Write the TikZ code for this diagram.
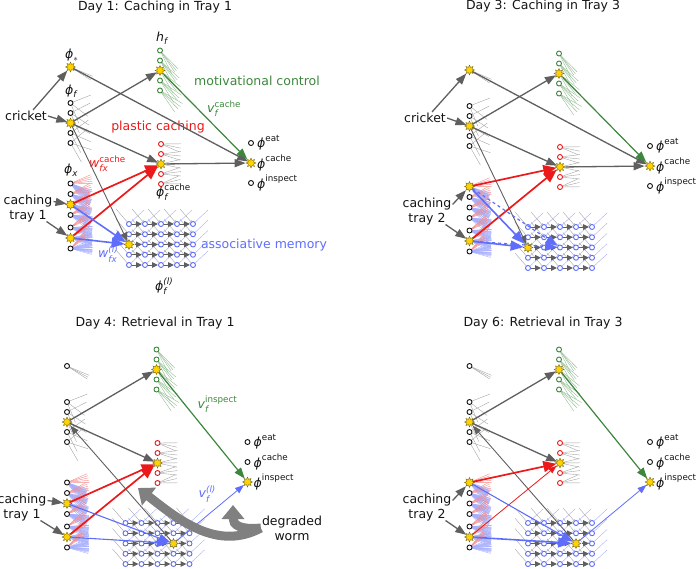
\documentclass[tikz,border=0pt]{standalone}
\usepackage{amsmath}
\usepackage{fontspec}
\setmainfont{DejaVu Sans}
\usetikzlibrary{positioning,arrows.meta,calc,backgrounds,shapes.geometric}
\definecolor{ink}{RGB}{20,20,20}
\definecolor{arrgray}{RGB}{95,95,95}
\definecolor{fangray}{RGB}{165,165,165}
\definecolor{mred}{RGB}{235,25,25}
\definecolor{mgreen}{RGB}{60,135,60}
\definecolor{mblue}{RGB}{95,110,250}
\definecolor{hubgold}{RGB}{255,210,0}
\definecolor{hubedge}{RGB}{120,105,20}
\definecolor{wormgray}{RGB}{128,128,128}
\newcommand{\vit}[1]{\text{\itshape #1}}
\newcommand{\vph}{\text{\itshape ϕ}}
\tikzset{
  hub/.style={star, star points=8, star point ratio=1.8, fill=hubgold, draw=hubedge,
    line width=0.4pt, minimum size=10pt, inner sep=0pt},
  cell/.style={circle, draw=ink, fill=white, line width=0.9pt, minimum size=5pt, inner sep=0pt},
  gcell/.style={cell, draw=mgreen},
  rcell/.style={cell, draw=mred},
  bcell/.style={cell, draw=mblue},
  lbl/.style={font=\fontsize{12.5}{15}\selectfont, text=ink, inner sep=1pt},
  gfan/.style={draw=fangray, line width=0.4pt},
  grfan/.style={draw=mgreen!55, line width=0.4pt},
  rfan/.style={draw=mred!50, line width=0.4pt},
  bfan/.style={draw=mblue!55, line width=0.4pt},
  garr/.style={-{Triangle[length=11pt,width=8pt]}, line width=1.3pt, draw=arrgray},
  garrthin/.style={-{Triangle[length=9pt,width=6.5pt]}, line width=0.9pt, draw=arrgray},
  grarr/.style={-{Triangle[length=11pt,width=8pt]}, line width=1.2pt, draw=mgreen},
  rarr/.style={-{Triangle[length=13pt,width=11pt]}, line width=1.7pt, draw=mred},
  rarrthin/.style={-{Triangle[length=8pt,width=6pt]}, line width=0.8pt, draw=mred},
  barr/.style={-{Triangle[length=13pt,width=10pt]}, line width=1.6pt, draw=mblue},
  barrmid/.style={-{Triangle[length=12pt,width=9pt]}, line width=1.1pt, draw=mblue},
  barrthin/.style={-{Triangle[length=9pt,width=6.5pt]}, line width=0.8pt, draw=mblue},
  dbarr/.style={-{Triangle[length=12pt,width=9pt]}, line width=1.2pt, draw=mblue, dashed},
  marr/.style={-{Triangle[length=6pt,width=5.5pt]}, line width=1pt, draw=arrgray},
  wormarr/.style={-{Triangle[length=14pt,width=22pt]}, line width=9pt, draw=wormgray},
}
% #1 prefix, #2 top style, #3 output hub, #4 first x hub, #5 memory hub column
\newcommand{\panelnet}[5]{%
  \node[#2] (#1-top) at (70.5,67) {};
  \foreach \k in {1,...,5}{
    \pgfmathsetmacro{\yg}{50.5+10*(\k-1)}
    \pgfmathsetmacro{\yf}{103+10*(\k-1)}
    \pgfmathsetmacro{\yr}{144+10*(\k-1)}
    \ifnum\k=3
      \node[hub] (#1-g\k) at (160,\yg) {};
      \node[hub] (#1-f\k) at (70.5,\yf) {};
      \node[hub] (#1-r\k) at (161,\yr) {};
    \else
      \node[gcell] (#1-g\k) at (160,\yg) {};
      \node[cell] (#1-f\k) at (70.5,\yf) {};
      \node[rcell] (#1-r\k) at (161,\yr) {};
    \fi
  }
  \foreach \k in {1,2,3}{
    \pgfmathsetmacro{\yo}{123+20*\k}
    \ifnum\k=#3
      \node[hub] (#1-o\k) at (251,\yo) {};
    \else
      \node[cell] (#1-o\k) at (251,\yo) {};
    \fi
  }
  \node[lbl, right=5pt of #1-o1.center, anchor=west] {$\vph^{\text{eat}}$};
  \node[lbl, right=5pt of #1-o2.center, anchor=west] {$\vph^{\text{cache}}$};
  \node[lbl, right=5pt of #1-o3.center, anchor=west] {$\vph^{\text{inspect}}$};
  \foreach \k/\y in {1/183.5,2/194,3/204.5,4/215,5/227.5,6/238,7/248.5}{
    \pgfmathtruncatemacro{\ishub}{(\k==#4)||(\k==6)}
    \ifnum\ishub=1
      \node[hub] (#1-x\k) at (70.5,\y) {};
    \else
      \node[cell] (#1-x\k) at (70.5,\y) {};
    \fi
  }
  % memory grid, rows chained left to right
  \foreach \r in {0,...,4}{
    \foreach \c in {0,...,4}{
      \pgfmathsetmacro{\gx}{129+16*\c}
      \pgfmathsetmacro{\gy}{224+10.25*\r}
      \pgfmathtruncatemacro{\ishub}{(\c==#5)&&(\r==2)}
      \ifnum\ishub=1
        \node[hub] (#1-m\c\r) at (\gx,\gy) {};
      \else
        \node[bcell] (#1-m\c\r) at (\gx,\gy) {};
      \fi
      \ifnum\c>0
        \pgfmathtruncatemacro{\pc}{\c-1}
        \draw[marr] (#1-m\pc\r.east) -- (#1-m\c\r.west);
      \fi
    }
  }
  % weight fans
  \begin{pgfonlayer}{background}
    \foreach \t in {1,2,3}
      \draw[gfan] (#1-top.center) -- ($(#1-top.center)!24pt!(#1-o\t.center)$);
    \foreach \k in {1,...,5}{
      \foreach \tx/\ty in {160/68,161/172,129/245}
        \draw[gfan] (#1-f\k.center) -- ($(#1-f\k.center)!22pt!(\tx,\ty)$);
      \foreach \t in {1,2,3}{
        \draw[grfan] (#1-g\k.center) -- ($(#1-g\k.center)!26pt!(#1-o\t.center)$);
        \draw[gfan] (#1-r\k.center) -- ($(#1-r\k.center)!20pt!(#1-o\t.center)$);
      }
      \draw[grfan] (#1-g\k.center) -- ($(#1-g\k.center)!26pt!(235,200)$);
    }
    \foreach \k in {1,...,7}{
      \foreach \j in {1,...,5}
        \draw[rfan] (#1-x\k.center) -- ($(#1-x\k.center)!22pt!(#1-r\j.center)$);
      \foreach \c in {0,...,4}
        \foreach \r in {0,...,4}
          \draw[bfan] (#1-x\k.center) -- ($(#1-x\k.center)!22pt!(#1-m\c\r.center)$);
    }
    \foreach \c in {0,...,4}
      \foreach \r in {0,...,4}{
        \draw[gfan] (#1-m\c\r.center) -- ++(-13,-15);
        \draw[bfan] (#1-m\c\r.center) -- ++(15,-14);
      }
  \end{pgfonlayer}
}

\begin{document}
\begin{tikzpicture}[x=1pt,y=-1pt]
\useasboundingbox (0,0) rectangle (700,568);
\node[lbl] (t1) at (155,7) {Day 1: Caching in Tray 1};
\node[lbl] (t2) at (543,6) {Day 3: Caching in Tray 3};
\node[lbl] (t3) at (155,323) {Day 4: Retrieval in Tray 1};
\node[lbl] (t4) at (543,323) {Day 6: Retrieval in Tray 3};

% Day 1
\begin{scope}[shift={(0,0)}]
\panelnet{a}{hub}{2}{3}{0}
\node[lbl] (a-cricket) at (26,116) {cricket};
\node[lbl, align=center] (a-tray) at (28,208.5) {caching\\tray 1};
\node[lbl, anchor=west] (a-ltop) at (64,55) {$\vph_{\ast}$};
\node[lbl, anchor=west] (a-lg) at (155,38) {$\vit{h}_{\vit{f}}$};
\node[lbl, anchor=west] (a-lf) at (64,91) {$\vph_{\vit{f}}$};
\node[lbl, anchor=west] (a-lx) at (63,170) {$\vph_{\vit{x}}$};
\node[lbl, anchor=west] (a-lr) at (155,192) {$\vph_{\vit{f}}^{\text{cache}}$};
\node[lbl, anchor=west] (a-lm) at (154,286) {$\vph_{\vit{f}}^{\vit{(l)}}$};
\node[lbl, text=mgreen] (a-mot) at (257,81) {motivational control};
\node[lbl, text=mgreen, anchor=west] (a-lv) at (206,109) {$\vit{v}_{\vit{f}}^{\text{cache}}$};
\node[lbl, text=mred] (a-plast) at (158,127) {plastic caching};
\node[lbl, text=mred, anchor=west] (a-lw) at (88,164) {$\vit{w}_{\vit{fx}}^{\text{cache}}$};
\node[lbl, text=mblue, anchor=west] (a-lwl) at (97,254) {$\vit{w}_{\vit{fx}}^{\vit{(l)}}$};
\node[lbl, text=mblue] (a-assoc) at (264,245) {associative memory};
\draw[garr] ([xshift=7pt]a-cricket.north) -- (a-top);
\draw[garr] (a-cricket.east) -- (a-f3);
\draw[garr] (a-top) -- (a-o2);
\draw[garr] (a-f3) -- (a-g3);
\draw[garr] (a-f3) -- (a-r3);
\draw[garrthin] (a-f3) -- (a-m02);
\draw[garr] (a-r3) -- (a-o2);
\draw[grarr] (a-g3) -- (a-o2);
\draw[garr] ([yshift=7pt]a-tray.east) -- (a-x3);
\draw[garr] ([xshift=-7pt,yshift=-13pt]a-tray.east) -- (a-x6);
\draw[rarr] (a-x3) -- (a-r3);
\draw[rarr] (a-x6) -- (a-r3);
\draw[barr] (a-x3) -- (a-m02);
\draw[barr] (a-x6) -- (a-m02);
\end{scope}

% Day 3
\begin{scope}[shift={(399,3)}]
\panelnet{b}{hub}{2}{1}{0}
\node[lbl] (b-cricket) at (26,115) {cricket};
\node[lbl, align=center] (b-tray) at (28,208.5) {caching\\tray 2};
\draw[garr] ([xshift=7pt]b-cricket.north) -- (b-top);
\draw[garr] (b-cricket.east) -- (b-f3);
\draw[garr] (b-top) -- (b-o2);
\draw[garr] (b-f3) -- (b-g3);
\draw[garr] (b-f3) -- (b-r3);
\draw[garrthin] (b-f3) -- (b-m02);
\draw[garr] (b-r3) -- (b-o2);
\draw[grarr] (b-g3) -- (b-o2);
\draw[garr] ([yshift=7pt]b-tray.east) -- (b-x1);
\draw[garr] ([xshift=-7pt,yshift=-13pt]b-tray.east) -- (b-x6);
\draw[rarr] (b-x1) -- (b-r3);
\draw[rarr] (b-x6) -- (b-r3);
\draw[dbarr] (b-x1) -- (b-m22);
\draw[dbarr] (b-x6) -- (b-m22);
\draw[barr] (b-x1) -- (b-m02);
\draw[barr] (b-x6) -- (b-m02);
\end{scope}

% Day 4
\begin{scope}[shift={(-3.5,299)}]
\panelnet{c}{cell}{3}{3}{3}
\node[lbl, align=center] (c-tray) at (25.5,208.5) {caching\\tray 1};
\node[lbl, text=mgreen, anchor=west] (c-lv) at (200,105) {$\vit{v}_{\vit{f}}^{\text{inspect}}$};
\node[lbl, text=mblue, anchor=west] (c-lvl) at (201,195) {$\vit{v}_{\vit{f}}^{\vit{(l)}}$};
\node[lbl, align=center] (c-worm) at (295.5,229) {degraded\\worm};
\coordinate (c-wa) at (141.5,189);
\coordinate (c-wb) at (236.5,206);
\draw[garr] (c-f3) -- (c-g3);
\draw[garr] (c-f3) -- (c-r3);
\draw[garrthin] (c-m32) -- (c-f3);
\draw[grarr] (c-g3) -- (c-o3);
\draw[garr] ([yshift=7pt]c-tray.east) -- (c-x3);
\draw[garr] ([xshift=-7pt,yshift=-13pt]c-tray.east) -- (c-x6);
\draw[rarr] (c-x3) -- (c-r3);
\draw[rarr] (c-x6) -- (c-r3);
\draw[barrmid] (c-x3) -- (c-m32);
\draw[barrmid] (c-x6) -- (c-m32);
\draw[barrthin] (c-m32) -- (c-o3);
\draw[wormarr] (c-worm.west) .. controls (221.5,252) and (183.5,222) .. (c-wa);
\draw[wormarr] (c-worm.west) .. controls (243.5,231) and (236.5,226) .. (c-wb);
\end{scope}

% Day 6
\begin{scope}[shift={(399,299)}]
\panelnet{d}{cell}{3}{1}{3}
\node[lbl, align=center] (d-tray) at (28,208.5) {caching\\tray 2};
\draw[garr] (d-f3) -- (d-g3);
\draw[garr] (d-f3) -- (d-r3);
\draw[garrthin] (d-m32) -- (d-f3);
\draw[grarr] (d-g3) -- (d-o3);
\draw[garr] ([yshift=7pt]d-tray.east) -- (d-x1);
\draw[garr] ([xshift=-7pt,yshift=-13pt]d-tray.east) -- (d-x6);
\draw[rarr] (d-x1) -- (d-r3);
\draw[rarrthin] (d-x6) -- (d-r3);
\draw[barrmid] (d-x1) -- (d-m32);
\draw[barr] (d-x6) -- (d-m32);
\draw[barrthin] (d-m32) -- (d-o3);
\end{scope}
\end{tikzpicture}
\end{document}
